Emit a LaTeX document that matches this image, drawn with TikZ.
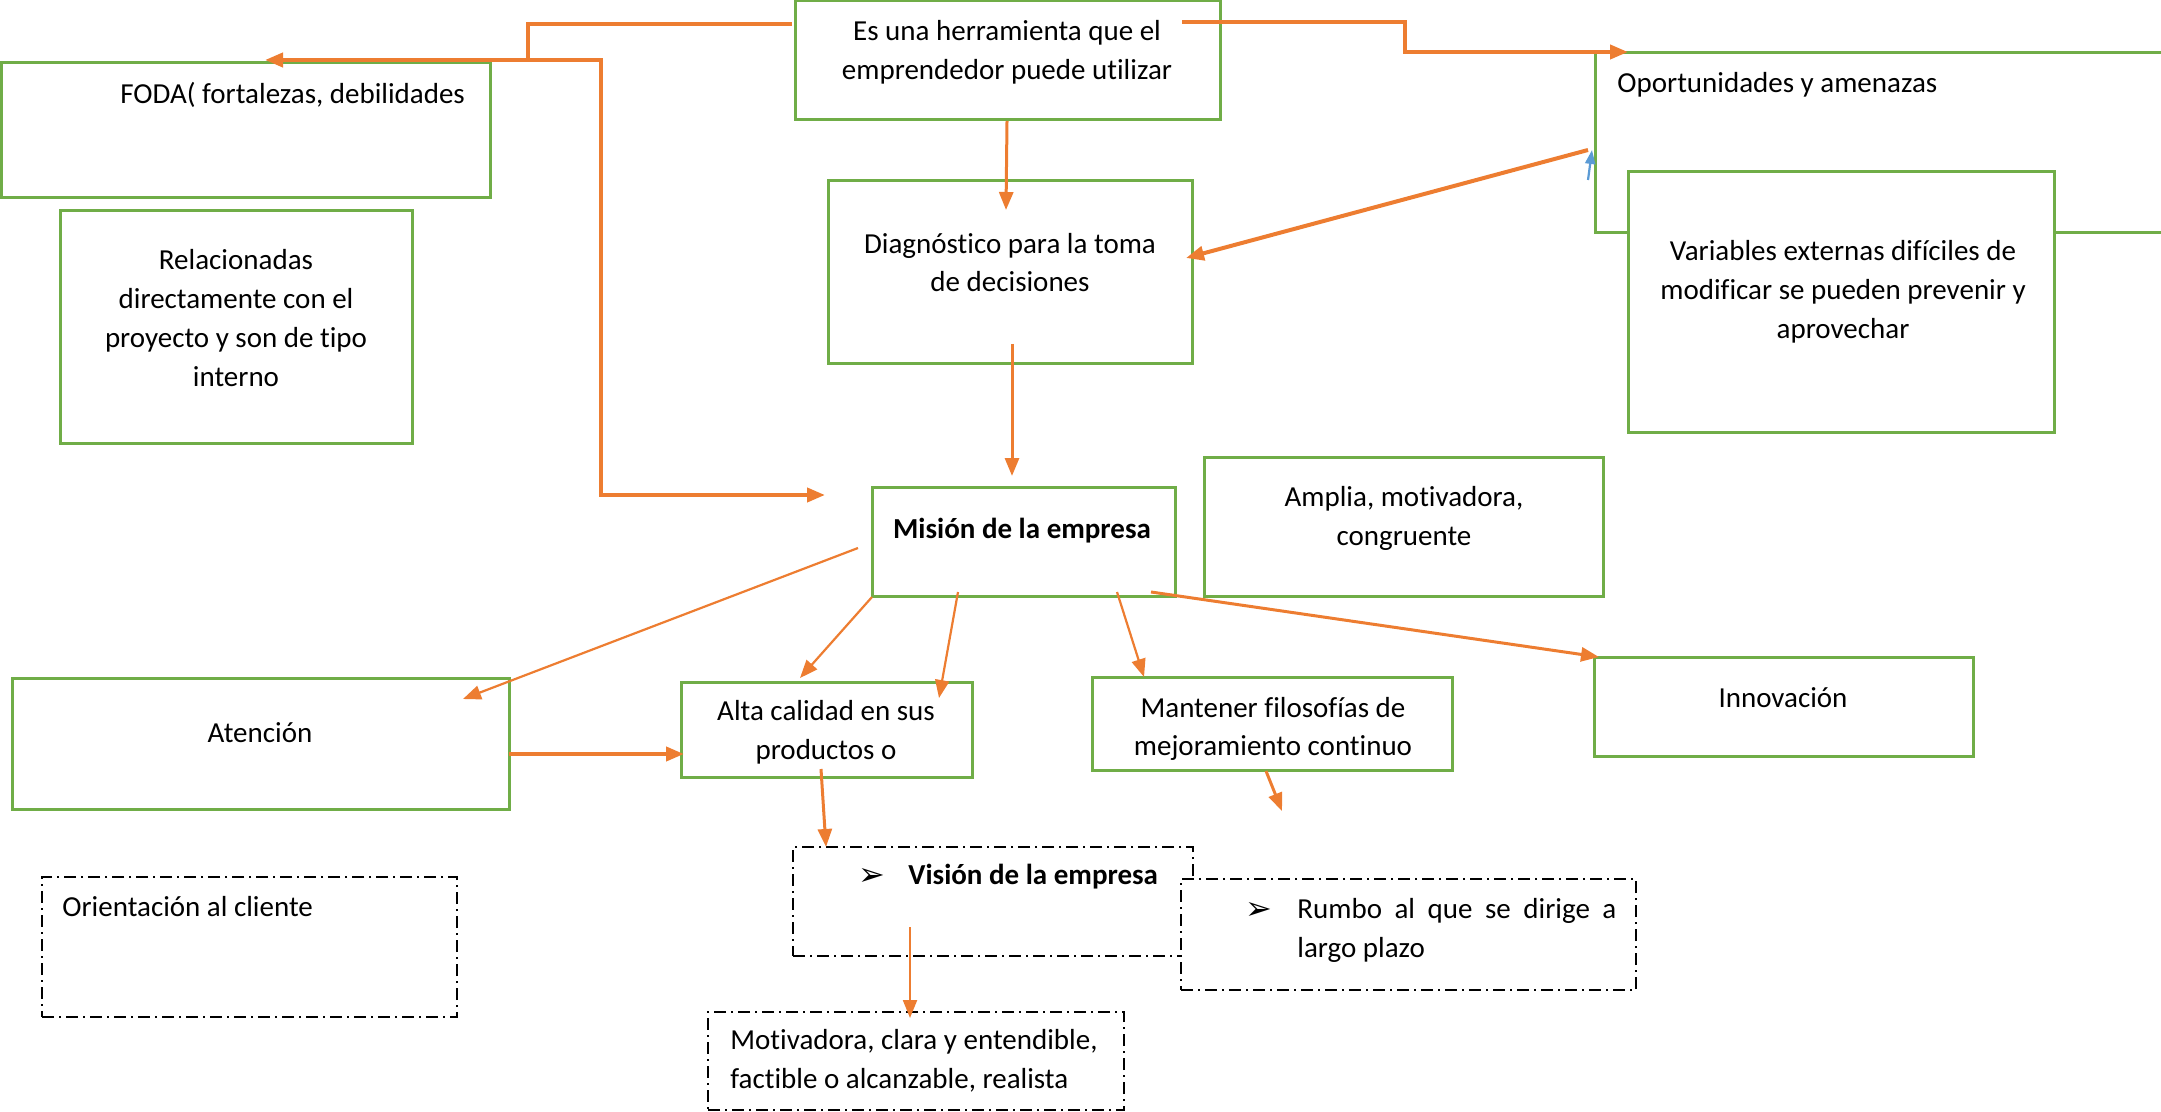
\documentclass[tikz,border=0pt]{standalone}
\usepackage{fontspec}
\setmainfont{Carlito}[Ligatures=NoCommon]
\newfontfamily\dejavu{DejaVu Sans}
\usetikzlibrary{arrows.meta,fit}
\definecolor{gr}{HTML}{70AD47}
\definecolor{orng}{HTML}{ED7D31}
\definecolor{bl}{HTML}{5B9BD5}
\begin{document}
\begin{tikzpicture}[x=0.5pt,y=-0.5pt,
  gbox/.style={draw=gr,line width=1.5pt,fill=white,inner sep=0pt,outer sep=0pt},
  dbox/.style={draw=black,line width=0.7pt,dash pattern=on 6pt off 2.5pt on 1pt off 2.5pt,fill=white,inner sep=0pt,outer sep=0pt},
  txt/.style={inner sep=0pt,font=\fontsize{14.5}{19.4}\selectfont,align=center},
  ltxt/.style={txt,anchor=west,align=left},
  bul/.style={inner sep=0pt,font=\dejavu\fontsize{16}{18}\selectfont},
  arr/.style={draw=orng,-{Triangle[length=9pt,width=7pt]}},
  wA/.style={line width=2pt},
  wB/.style={line width=1.5pt},
  wC/.style={line width=1.1pt}]
\useasboundingbox (0,0) rectangle (2161,1112);

% boxes
\node[gbox,fit={(795,1)(1220,120)}] (top) {};
\node[txt] (topt) at (1007,52.5) {Es una herramienta que el\\emprendedor puede utilizar};
\node[gbox,fit={(1,63)(490,198)}] (foda) {};
\node[ltxt] (fodat) at (120,95) {FODA( fortalezas, debilidades};
\node[gbox,fit={(60,211)(412,443)}] (rel) {};
\node[txt] (relt) at (236,318) {Relacionadas\\directamente con el\\proyecto y son de tipo\\interno};
\node[gbox,fit={(828,181)(1192,364)}] (diag) {};
\node[txt] (diagt) at (1010,262.5) {Diagnóstico para la toma\\de decisiones};
\node[gbox,fit={(1595,53)(2220,233)}] (oport) {};
\node[ltxt] (oportt) at (1617,85) {Oportunidades y amenazas};
\node[gbox,fit={(1628,172)(2054,432)}] (var) {};
\node[txt] (vart) at (1843,291.5) {Variables externas difíciles de\\modificar se pueden prevenir y\\aprovechar};
\node[gbox,fit={(872,487)(1175,596)}] (mision) {};
\node[txt,font=\fontsize{14.5}{19.4}\selectfont\bfseries] (misiont) at (1022,531) {Misión de la empresa};
\node[gbox,fit={(1204,457)(1603,596)}] (amplia) {};
\node[txt] (ampliat) at (1404,518.5) {Amplia, motivadora,\\congruente};
\node[gbox,fit={(12,678)(509,809)}] (aten) {};
\node[txt] (atent) at (260,733) {Atención};
\node[gbox,fit={(681,682)(972,777)}] (alta) {};
\node[txt] (altat) at (826,732.5) {Alta calidad en sus\\productos o};
\node[gbox,fit={(1092,677)(1452,770)}] (mant) {};
\node[txt] (mantt) at (1273,729) {Mantener filosofías de\\mejoramiento continuo};
\node[gbox,fit={(1594,657)(1973,756)}] (innov) {};
\node[txt] (innovt) at (1783,698) {Innovación};

\node[dbox,fit={(42,877)(457,1017)}] (orient) {};
\node[ltxt] (orientt) at (62,907) {Orientación al cliente};
\node[dbox,fit={(793,847)(1193,956)}] (vision) {};
\node[bul] (visionb) at (872,877) {➢};
\node[ltxt,font=\fontsize{14.5}{19.4}\selectfont\bfseries] (visiont) at (908,877) {Visión de la empresa};
\node[dbox,fit={(1181,879)(1636,990)}] (rumbo) {};
\node[bul] (rumbob) at (1259,911) {➢};
\node[txt,anchor=north west,align=left] (rumbot) at (1297,898) {\makebox[159.5pt][s]{Rumbo al que se dirige a}\\largo plazo};
\node[dbox,fit={(708,1012)(1124,1110)}] (motiv) {};
\node[txt,anchor=north west,align=left] (motivt) at (730,1029) {Motivadora, clara y entendible,\\factible o alcanzable, realista};

% connector end points
\coordinate (a1s) at (792,24);
\coordinate (j1) at (528,24);
\coordinate (j2) at (528,60);
\coordinate (a1e) at (265,60);
\coordinate (a2e) at (825,495);
\coordinate (a3s) at (1182,22);
\coordinate (a3e) at (1628,52);
\coordinate (a4s) at (1007,121);
\coordinate (a4e) at (1006,210);
\coordinate (a5s) at (1588,150);
\coordinate (a5e) at (1186,258);
\coordinate (bls) at (1588,180);
\coordinate (ble) at (1592,150);
\coordinate (a6s) at (1012,344);
\coordinate (a6e) at (1012,476);
\coordinate (a7s) at (858,548);
\coordinate (a7e) at (463,699);
\coordinate (a8s) at (872,597);
\coordinate (a8e) at (800,678);
\coordinate (a9s) at (958,592);
\coordinate (a9e) at (939,698);
\coordinate (a10s) at (1117,592);
\coordinate (a10e) at (1144,677);
\coordinate (a11s) at (1151,592);
\coordinate (a11e) at (1599,657);
\coordinate (a12s) at (509,754);
\coordinate (a12e) at (684,754);
\coordinate (a13s) at (821,769);
\coordinate (a13e) at (826,847);
\coordinate (a14s) at (1266,771);
\coordinate (a14e) at (1282,811);
\coordinate (a15s) at (910,927);
\coordinate (a15e) at (910,1018);

% connectors
\draw[arr,wA] (a1s) -- (j1) -- (j2) -- (a1e);
\draw[arr,wA] (j2) -- (601,60) -- (601,495) -- (a2e);
\draw[arr,wA] (a3s) -- (1405,22) -- (1405,52) -- (a3e);
\draw[arr,wB] (a4s) -- (a4e);
\draw[arr,wA] (a5s) -- (a5e);
\draw[draw=bl,line width=1.1pt,-{Triangle[length=7pt,width=5pt]}] (bls) -- (ble);
\draw[arr,wB] (a6s) -- (a6e);
\draw[arr,wC] (a7s) -- (a7e);
\draw[arr,wC] (a8s) -- (a8e);
\draw[arr,wC] (a9s) -- (a9e);
\draw[arr,wC] (a10s) -- (a10e);
\draw[arr,wB] (a11s) -- (a11e);
\draw[arr,wA] (a12s) -- (a12e);
\draw[arr,wB] (a13s) -- (a13e);
\draw[arr,wB] (a14s) -- (a14e);
\draw[arr,wC] (a15s) -- (a15e);
\end{tikzpicture}
\end{document}
